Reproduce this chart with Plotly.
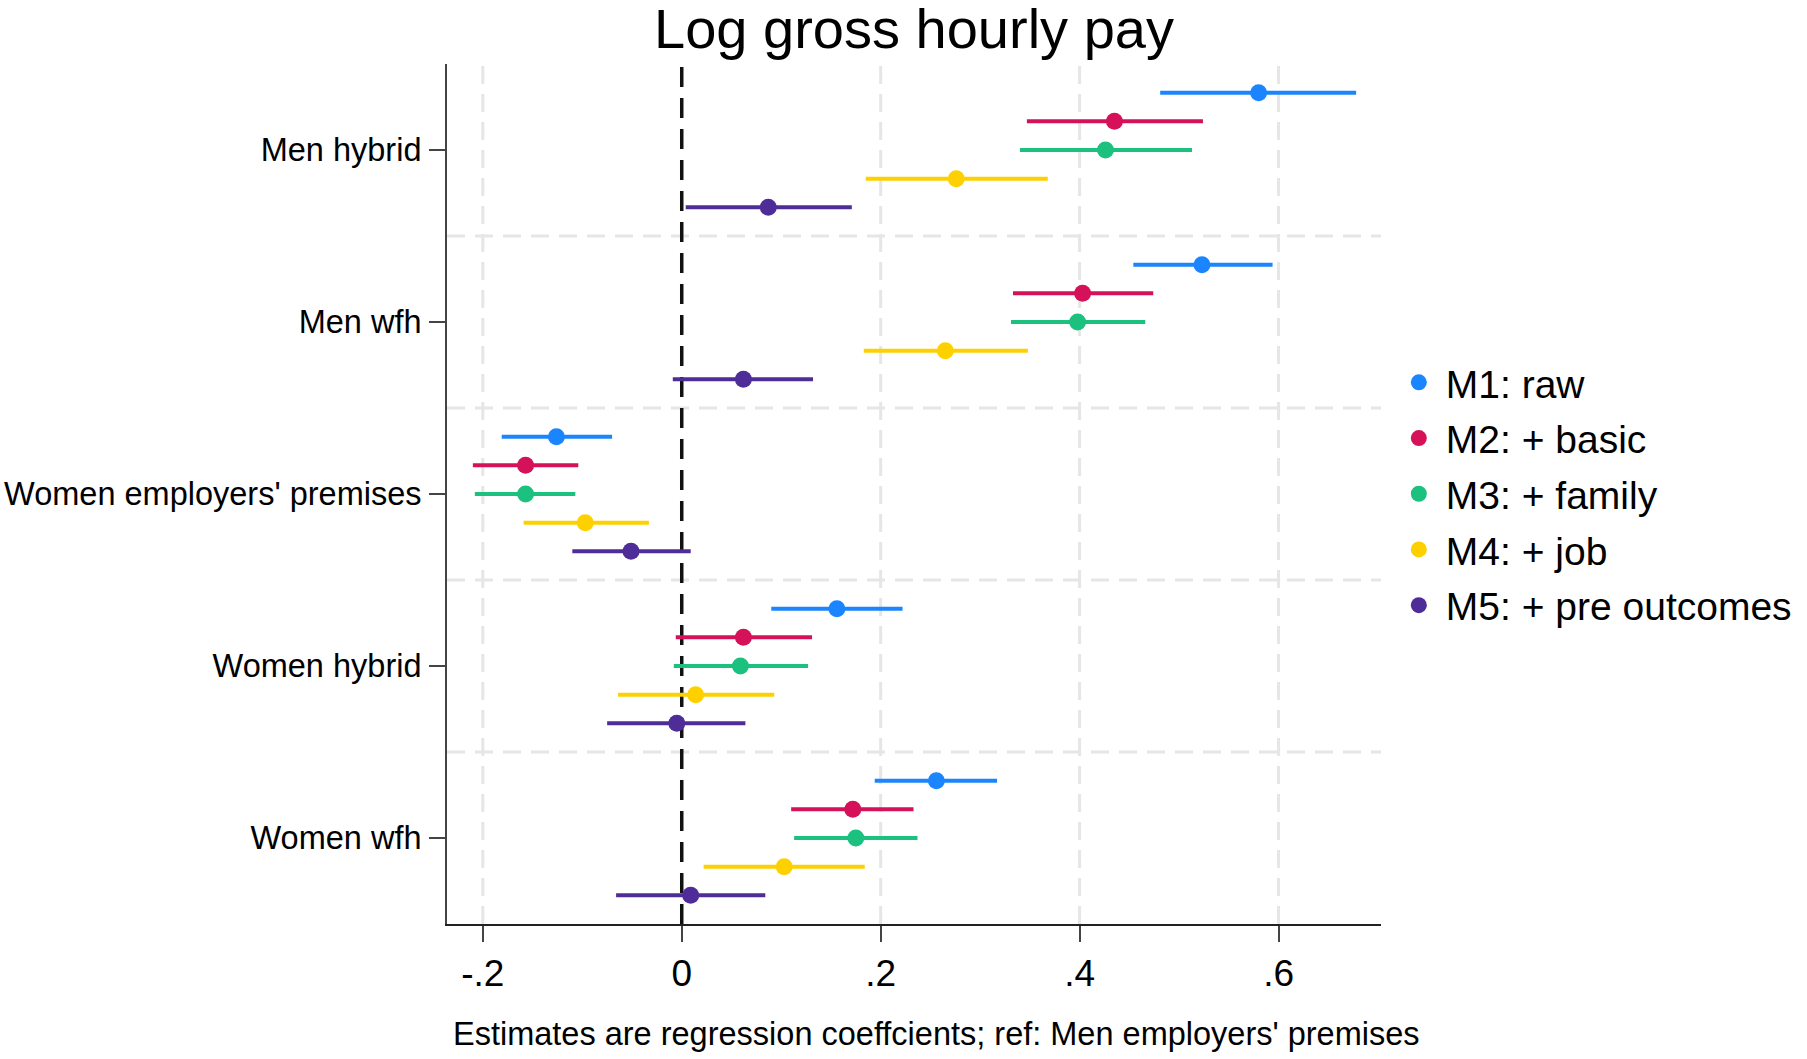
import plotly.graph_objects as go

categories = ["Men hybrid", "Men wfh", "Women employers' premises", "Women hybrid", "Women wfh"]
models = ["M1: raw", "M2: + basic", "M3: + family", "M4: + job", "M5: + pre outcomes"]
colors = ["#1a85ff", "#d41159", "#1cc07f", "#ffd000", "#4f2d99"]

# estimates per model, ordered as categories
m1_est = [0.580, 0.523, -0.126, 0.156, 0.256]
m1_lo = [0.481, 0.454, -0.181, 0.090, 0.194]
m1_hi = [0.678, 0.594, -0.070, 0.222, 0.317]

m2_est = [0.435, 0.403, -0.157, 0.062, 0.172]
m2_lo = [0.347, 0.333, -0.210, -0.006, 0.110]
m2_hi = [0.524, 0.474, -0.104, 0.131, 0.233]

m3_est = [0.426, 0.398, -0.157, 0.059, 0.175]
m3_lo = [0.340, 0.331, -0.208, -0.008, 0.113]
m3_hi = [0.513, 0.466, -0.107, 0.127, 0.237]

m4_est = [0.276, 0.265, -0.097, 0.014, 0.103]
m4_lo = [0.185, 0.183, -0.159, -0.064, 0.022]
m4_hi = [0.368, 0.348, -0.033, 0.093, 0.184]

m5_est = [0.087, 0.062, -0.051, -0.005, 0.009]
m5_lo = [0.004, -0.009, -0.110, -0.075, -0.066]
m5_hi = [0.171, 0.132, 0.009, 0.064, 0.084]

x_ticks = [-0.2, 0, 0.2, 0.4, 0.6]
x_ticklabels = ["-.2", "0", ".2", ".4", ".6"]

est = [m1_est, m2_est, m3_est, m4_est, m5_est]
lo = [m1_lo, m2_lo, m3_lo, m4_lo, m5_lo]
hi = [m1_hi, m2_hi, m3_hi, m4_hi, m5_hi]

n_cat = len(categories)
n_mod = len(models)
step = n_mod + 1
centers = [step * (n_cat - 1 - i) for i in range(n_cat)]

FONT = "Liberation Sans, Arial, sans-serif"

fig = go.Figure()
for m in range(n_mod):
    ys = [c + (n_mod // 2 - m) for c in centers]
    fig.add_trace(go.Scatter(
        x=est[m], y=ys, mode="markers", name=models[m], legendgroup=models[m],
        marker=dict(color=colors[m], size=17),
        error_x=dict(type="data", symmetric=False,
                     array=[h - e for h, e in zip(hi[m], est[m])],
                     arrayminus=[e - l for e, l in zip(est[m], lo[m])],
                     color=colors[m], thickness=4, width=0),
    ))

GRID = dict(color="#e6e6e6", width=3, dash="18px,10px")

# vertical grid lines (not at zero)
for xv in x_ticks:
    if xv != 0:
        fig.add_shape(type="line", xref="x", yref="paper", x0=xv, x1=xv, y0=0, y1=1,
                      line=GRID, layer="below")

# separators between categories
for i in range(n_cat - 1):
    ysep = centers[i] - step / 2
    fig.add_shape(type="line", xref="paper", x0=0, x1=1, y0=ysep, y1=ysep,
                  line=GRID, layer="below")

# zero reference line
fig.add_shape(type="line", xref="x", yref="paper", x0=0, x1=0, y0=0, y1=1,
              line=dict(color="#111111", width=3.5, dash="20px,11px"), layer="below")

# x-axis caption
fig.add_annotation(text="Estimates are regression coeffcients; ref: Men employers' premises",
                   xref="paper", yref="paper", x=0.524, y=-0.1276,
                   xanchor="center", yanchor="middle", showarrow=False,
                   font=dict(size=32.5, family=FONT, color="#000000"))

fig.update_layout(
    width=1807, height=1059,
    paper_bgcolor="white", plot_bgcolor="white",
    margin=dict(l=447, r=426, t=64, b=135, autoexpand=False),
    font=dict(family=FONT, color="#000000"),
    title=dict(text="Log gross hourly pay", x=0.5, xref="paper", xanchor="center",
               y=1 - 28 / 1059, yref="container", yanchor="middle",
               font=dict(size=56, family=FONT, color="#000000")),
    showlegend=True,
    legend=dict(x=1.0116, xanchor="left", y=0.5, yanchor="middle",
                font=dict(size=39, family=FONT), itemwidth=44,
                bgcolor="rgba(0,0,0,0)", tracegroupgap=2),
    xaxis=dict(range=[-0.236, 0.703], tickvals=x_ticks, ticktext=x_ticklabels,
               showgrid=False, zeroline=False, showline=True, linecolor="#222222", linewidth=2,
               ticks="outside", ticklen=16, tickwidth=2, tickcolor="#444444",
               tickfont=dict(size=37, family=FONT)),
    yaxis=dict(range=[-3, 27], tickvals=centers, ticktext=categories,
               showgrid=False, zeroline=False, showline=True, linecolor="#444444", linewidth=2,
               ticks="outside", ticklen=16, tickwidth=2, tickcolor="#444444",
               ticklabelstandoff=1,
               tickfont=dict(size=32.5, family=FONT)),
)

# remove the browser's default body margin so the figure starts at the page corner
fig.write_html("out.html", config={"displayModeBar": False},
               post_script="document.body.style.margin='0';")
